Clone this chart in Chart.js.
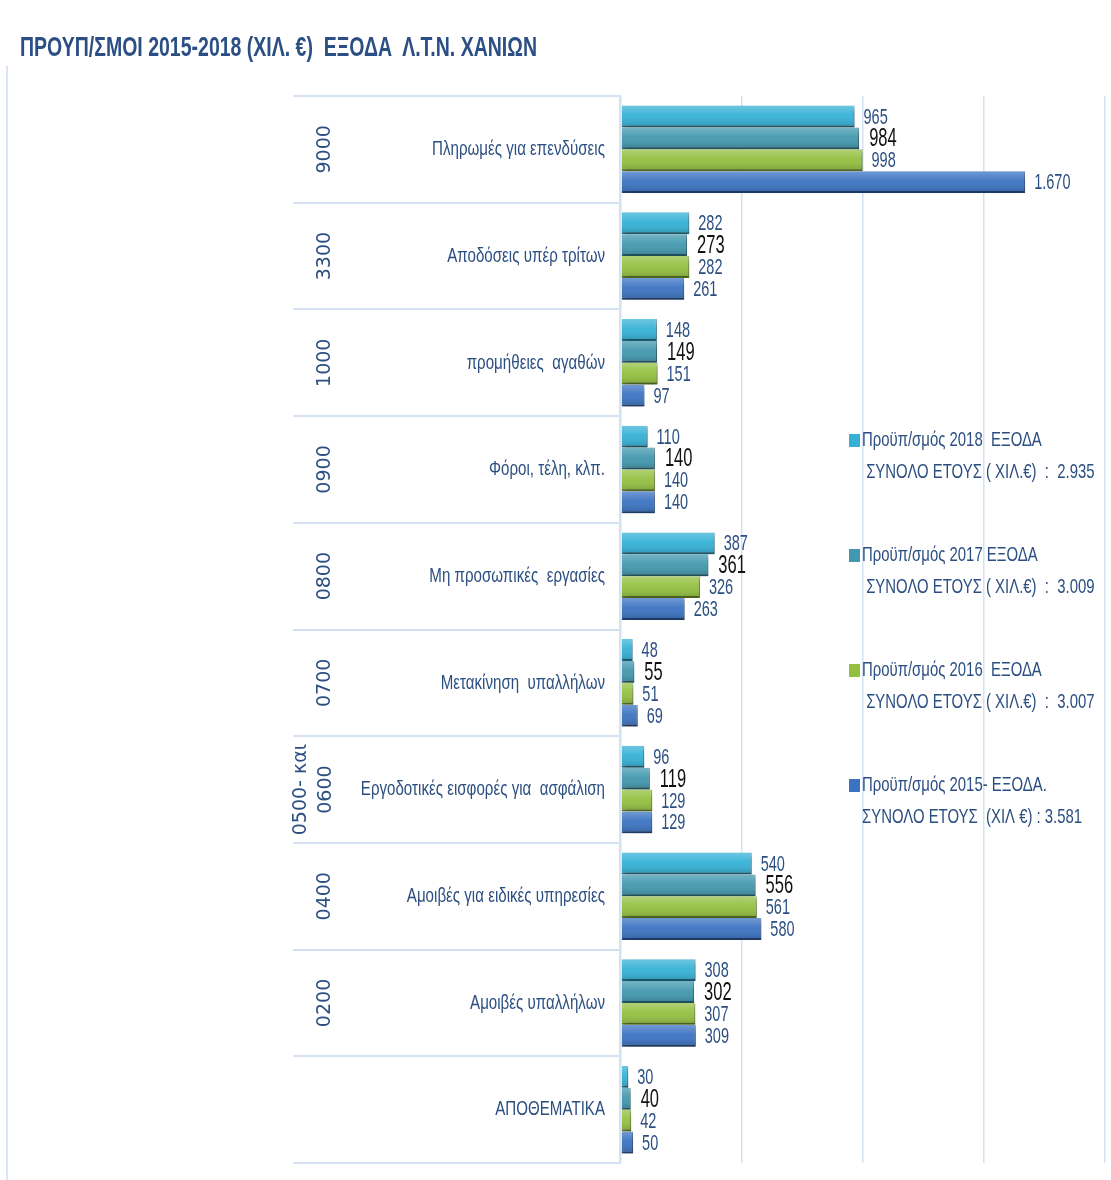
<!DOCTYPE html>
<html>
<head>
<meta charset="utf-8">
<script src="https://cdn.jsdelivr.net/npm/chart.js@4.4.1/dist/chart.umd.min.js"></script>
<style>
    body { margin: 0; background: #ffffff; }
    #wrap { position: relative; width: 1111px; height: 1180px; }
    #frame { position: absolute; left: 6px; top: 66px; width: 2px; height: 1114px; background: #dbe6f4; }
    #title {
        position: absolute; left: 20px; top: 31px;
        font: bold 28px 'Liberation Sans', Arial, sans-serif;
        color: #2b4e85; white-space: pre;
        transform-origin: 0 50%;
    }
</style>
</head>
<body>
<div id="wrap">
    <div id="frame"></div>
    <div id="title">ΠΡΟΥΠ/ΣΜΟΙ 2015-2018 (ΧΙΛ. €)  ΕΞΟΔΑ  Λ.Τ.Ν. ΧΑΝΙΩΝ</div>
    <canvas id="budgetChart"></canvas>
</div>
<script>
// budget codes and item names, top to bottom
const categoryCodes = ['9000', '3300', '1000', '0900', '0800', '0700', ['0500- και', '0600'], '0400', '0200', ''];
const categoryNames = [
    'Πληρωμές για επενδύσεις',
    'Αποδόσεις υπέρ τρίτων',
    'προμήθειες  αγαθών',
    'Φόροι, τέλη, κλπ.',
    'Μη προσωπικές  εργασίες',
    'Μετακίνηση  υπαλλήλων',
    'Εργοδοτικές εισφορές για  ασφάλιση',
    'Αμοιβές για ειδικές υπηρεσίες',
    'Αμοιβές υπαλλήλων',
    'ΑΠΟΘΕΜΑΤΙΚΑ'
];

const values2018 = [965, 282, 148, 110, 387, 48, 96, 540, 308, 30];
const values2017 = [984, 273, 149, 140, 361, 55, 119, 556, 302, 40];
const values2016 = [998, 282, 151, 140, 326, 51, 129, 561, 307, 42];
const values2015 = [1670, 261, 97, 140, 263, 69, 129, 580, 309, 50];

const seriesNames = [
    'Προϋπ/σμός 2018  ΕΞΟΔΑ',
    'Προϋπ/σμός 2017 ΕΞΟΔΑ',
    'Προϋπ/σμός 2016  ΕΞΟΔΑ',
    'Προϋπ/σμός 2015- ΕΞΟΔΑ.'
];
const seriesTotals = [
    ' ΣΥΝΟΛΟ ΕΤΟΥΣ ( ΧΙΛ.€)  :  2.935',
    ' ΣΥΝΟΛΟ ΕΤΟΥΣ ( ΧΙΛ.€)  :  3.009',
    ' ΣΥΝΟΛΟ ΕΤΟΥΣ ( ΧΙΛ.€)  :  3.007',
    'ΣΥΝΟΛΟ ΕΤΟΥΣ  (ΧΙΛ €) : 3.581'
];
const seriesColors = ['#35b1d6', '#4298ae', '#93c040', '#3b73c2'];
const seriesEdges = ['#23809f', '#2f7488', '#6f9528', '#2a5599'];

const xMin = 0;
const xMax = 2000;
const xStep = 500;

const NAVY = '#2c4f82';
const LINE = '#d3e1f2';
const SANS = "'Liberation Sans', Arial, sans-serif";

// squeeze the title to the narrow look of the original
(function() {
    const t = document.getElementById('title');
    const w = t.getBoundingClientRect().width;
    t.style.transform = 'scaleX(' + (517 / w) + ')';
})();

function fmt(v) {
    return String(v).replace(/\B(?=(\d{3})+(?!\d))/g, '.');
}

// text drawn narrow, like Calibri squeezed
function narrowText(ctx, txt, x, y, font, align, sx) {
    ctx.save();
    ctx.translate(x, y);
    ctx.scale(sx, 1);
    ctx.font = font;
    ctx.textAlign = align;
    ctx.textBaseline = 'middle';
    ctx.fillText(txt, 0, 0);
    ctx.restore();
}

// left "table": separators, rotated codes, item names
const tablePlugin = {
    id: 'tablePlugin',
    afterDraw(chart) {
        const ctx = chart.ctx;
        const area = chart.chartArea;
        const yScale = chart.scales.y;
        const n = categoryNames.length;
        const band = (area.bottom - area.top) / n;

        ctx.save();
        ctx.strokeStyle = LINE;
        ctx.lineWidth = 2;
        for (let i = 0; i <= n; i++) {
            const y = Math.round(area.top + i * band);
            ctx.beginPath();
            ctx.moveTo(293, y);
            ctx.lineTo(area.left, y);
            ctx.stroke();
        }
        ctx.beginPath();
        ctx.moveTo(area.left - 1, area.top);
        ctx.lineTo(area.left - 1, area.bottom);
        ctx.stroke();

        for (let i = 0; i < n; i++) {
            const cy = yScale.getPixelForValue(i);

            ctx.fillStyle = NAVY;
            narrowText(ctx, categoryNames[i], 605, cy, '21px ' + SANS, 'right', 0.72);

            // code, rotated
            const code = categoryCodes[i];
            const lines = Array.isArray(code) ? code : [code];
            lines.forEach((txt, k) => {
                const cx = lines.length === 1 ? 325 : 301 + k * 25;
                ctx.save();
                ctx.translate(cx, cy);
                ctx.rotate(-Math.PI / 2);
                ctx.font = "19px 'DejaVu Sans', sans-serif";
                ctx.textAlign = 'center';
                ctx.textBaseline = 'middle';
                ctx.fillText(txt, 0, 0);
                ctx.restore();
            });
        }
        ctx.restore();
    }
};

// shading on bars + value labels
const barLabelPlugin = {
    id: 'barLabelPlugin',
    beforeDatasetsDraw(chart) {
        const ctx = chart.ctx;
        ctx.save();
        ctx.shadowColor = 'rgba(0,0,0,0.35)';
        ctx.shadowBlur = 4;
        ctx.shadowOffsetX = 2;
        ctx.shadowOffsetY = 2;
    },
    afterDatasetsDraw(chart) {
        const ctx = chart.ctx;
        ctx.restore();
        ctx.save();
        chart.data.datasets.forEach((ds, di) => {
            const meta = chart.getDatasetMeta(di);
            meta.data.forEach((bar) => {
                const p = bar.getProps(['x', 'y', 'base', 'height'], true);
                const top = p.y - p.height / 2;
                const g = ctx.createLinearGradient(0, top, 0, top + p.height);
                g.addColorStop(0, 'rgba(255,255,255,0.28)');
                g.addColorStop(0.45, 'rgba(255,255,255,0.05)');
                g.addColorStop(1, 'rgba(0,0,0,0.18)');
                ctx.fillStyle = g;
                ctx.fillRect(p.base, top, p.x - p.base, p.height);
            });
        });

        chart.data.datasets.forEach((ds, di) => {
            const meta = chart.getDatasetMeta(di);
            meta.data.forEach((bar, j) => {
                const p = bar.getProps(['x', 'y'], true);
                if (di === 1) {
                    ctx.fillStyle = '#111111';
                    narrowText(ctx, fmt(ds.data[j]), p.x + 10, p.y + 1, '25px ' + SANS, 'left', 0.66);
                } else {
                    ctx.fillStyle = NAVY;
                    narrowText(ctx, fmt(ds.data[j]), p.x + 9, p.y + 1, '22px ' + SANS, 'left', 0.66);
                }
            });
        });
        ctx.restore();
    }
};

// legend drawn over the plot, on the right
const sideLegendPlugin = {
    id: 'sideLegendPlugin',
    afterDraw(chart) {
        const ctx = chart.ctx;
        ctx.save();
        chart.data.datasets.forEach((ds, i) => {
            const y = 440 + i * 115;
            ctx.fillStyle = seriesColors[i];
            ctx.fillRect(849, y - 6, 11, 13);
            ctx.fillStyle = NAVY;
            narrowText(ctx, ds.label, 862, y, '21px ' + SANS, 'left', 0.71);
            narrowText(ctx, seriesTotals[i], 862, y + 32, '21px ' + SANS, 'left', 0.71);
        });
        ctx.restore();
    }
};

const seriesValues = [values2018, values2017, values2016, values2015];

new Chart(document.getElementById('budgetChart'), {
    type: 'bar',
    data: {
        labels: categoryNames,
        datasets: seriesNames.map((name, i) => ({
            label: name,
            data: seriesValues[i],
            backgroundColor: seriesColors[i],
            borderColor: seriesEdges[i],
            borderWidth: { top: 0, left: 0, right: 1, bottom: 2 },
            borderSkipped: false,
            categoryPercentage: 0.82,
            barPercentage: 1.0
        }))
    },
    options: {
        indexAxis: 'y',
        responsive: true,
        maintainAspectRatio: false,
        animation: false,
        layout: { padding: { top: 96, bottom: 17, right: 6, left: 0 } },
        plugins: {
            legend: { display: false },
            tooltip: { enabled: false }
        },
        scales: {
            x: {
                min: xMin,
                max: xMax,
                ticks: { display: false, stepSize: xStep },
                grid: { color: LINE, lineWidth: 1.5, drawTicks: false },
                border: { display: false },
                afterFit(scale) { scale.height = 0; }
            },
            y: {
                ticks: { display: false },
                grid: { display: false, drawTicks: false },
                border: { display: false },
                afterFit(scale) { scale.width = 621; }
            }
        }
    },
    plugins: [tablePlugin, barLabelPlugin, sideLegendPlugin]
});
</script>
</body>
</html>
